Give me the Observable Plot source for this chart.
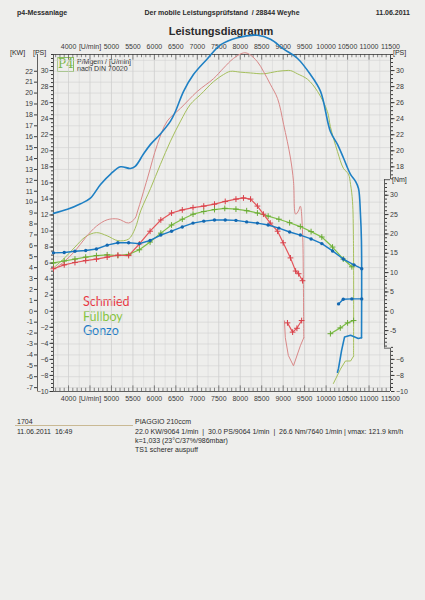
<!DOCTYPE html>
<html><head><meta charset="utf-8">
<script src="https://cdn.jsdelivr.net/npm/d3@7"></script>
<script src="https://cdn.jsdelivr.net/npm/@observablehq/plot@0.6"></script>
<style>
html,body{margin:0;padding:0;background:#ececea;}
#page{position:relative;width:425px;height:600px;overflow:hidden;background:#eeeeec;font-family:"Liberation Sans",Arial,sans-serif;color:#2b2b2b;}
.t{position:absolute;white-space:nowrap;font-size:7px;line-height:1;}
.b{font-weight:bold;}
.leg{position:absolute;font-family:Lato,"Open Sans",sans-serif;font-size:12.5px;line-height:1;white-space:nowrap;}
#chart{position:absolute;left:0;top:0;}
</style></head><body>
<div id="page">
  <div class="t b" style="left:17px;top:9px;">p4-Messanlage</div>
  <div class="t b" style="left:222px;top:9px;transform:translateX(-50%);">Der mobile Leistungsprüfstand &nbsp;/ 28844 Weyhe</div>
  <div class="t b" style="right:15px;top:9px;">11.06.2011</div>
  <div class="t b" style="left:221px;top:26px;font-size:11px;transform:translateX(-50%);">Leistungsdiagramm</div>
  <div class="t" style="left:10px;top:49px;">[KW]</div>
  <div class="t" style="left:33px;top:49px;">[PS]</div>
  <div class="t" style="left:393px;top:49px;">[PS]</div>
  <div class="t" style="left:392px;top:176px;">[Nm]</div>
  <div style="position:absolute;left:57px;top:57px;width:15px;height:13px;border:1px solid #8cbf5e;color:#7ab648;font-family:'DejaVu Serif',serif;font-size:12px;line-height:13px;text-align:center;">P4</div>
  <div class="t" style="left:77px;top:58px;">P/Mgem / [U/min]</div>
  <div class="t" style="left:77px;top:65px;">nach DIN 70020</div>
  <div class="leg" style="left:83px;top:296px;color:#e8343e;">Schmied</div>
  <div class="leg" style="left:83px;top:311px;color:#86c440;">Füllboy</div>
  <div class="leg" style="left:83px;top:325px;color:#1d7cc6;">Gonzo</div>
  <div class="t" style="left:17px;top:418px;">1704</div>
  <div style="position:absolute;left:15px;top:425px;width:118px;border-top:1px solid #c9b994;"></div>
  <div class="t" style="left:17px;top:428px;">11.06.2011 &nbsp;16:49</div>
  <div class="t" style="left:135px;top:418px;">PIAGGIO 210ccm</div>
  <div class="t" style="left:135px;top:428px;">22.0 KW/9064 1/min &nbsp;| &nbsp;30.0 PS/9064 1/min &nbsp;| &nbsp;26.6 Nm/7640 1/min | vmax: 121.9 km/h</div>
  <div class="t" style="left:135px;top:437px;">k=1,033 (23°C/37%/986mbar)</div>
  <div class="t" style="left:135px;top:446px;">TS1 scherer auspuff</div>
  <div id="chart"></div>
</div>
<script>
// ---- axis ticks / labels ----
const rpmLabelTicks = [4000,4500,5000,5500,6000,6500,7000,7500,8000,8500,9000,9500,10000,10500,11000,11500];
const rpmTickLabels = ["4000","[U/min]","5000","5500","6000","6500","7000","7500","8000","8500","9000","9500","10000","10500","11000","11500"];
const psLeftLabels = [-10,-8,-6,-4,-2,0,2,4,6,8,10,12,14,16,18,20,22,24,26,28,30];
const kwLabels = [-7,-6,-5,-4,-3,-2,-1,0,1,2,3,4,5,6,7,8,9,10,11,12,13,14,15,16,17,18,19,20,21,22];
const psRightUpperLabels = [18,20,22,24,26,28,30];
const psRightLowerLabels = [-10,-8,-6];
const nmLabels = [-5,0,5,10,15,20,25,30];

// ---- series: [rpm, PS] for power, [rpm, Nm] for torque ----
const schmiedPower = [[3650,5.2],[3900,6.2],[4150,7.5],[4400,9.2],[4650,10.6],[4900,11.4],[5150,11.5],[5400,11.0],[5550,11.6],[5610,12.5],[5840,16.6],[6070,20.8],[6300,23.7],[6610,25.3],[7000,27.4],[7380,29.0],[7610,30.3],[7840,31.5],[8075,32.2],[8190,32.1],[8400,31.1],[8540,29.9],[8700,28.3],[8870,26.5],[9010,23.3],[9170,19.1],[9240,16.2],[9290,12.1],[9355,12.5],[9400,13.1],[9450,10.0],[9470,3.8],[9480,-3.3]];
const schmiedPowerLoss = [[9480,-3.3],[9400,-4.3],[9240,-6.8],[9120,-5.5],[9050,-3.3],[9030,-1.2]];
const schmiedTorque = [[3650,11.0],[3900,12.0],[4150,12.6],[4400,13.1],[4650,13.5],[4900,14.0],[5150,14.5],[5400,14.4],[5650,17.4],[5900,20.7],[6150,23.6],[6400,25.4],[6650,26.2],[6900,26.8],[7150,27.2],[7400,27.7],[7650,28.4],[7900,29.0],[8075,29.3],[8240,29.0],[8400,27.2],[8540,25.1],[8700,22.8],[8870,20.7],[9000,17.7],[9170,13.8],[9290,10.4],[9360,9.7],[9450,7.9]];
const schmiedTorqueLoss = [[9100,-3.0],[9220,-5.4],[9320,-4.4],[9430,-2.4]];

const fuellboyPower = [[3650,5.4],[3900,6.6],[4150,8.0],[4400,9.3],[4650,9.8],[4900,9.4],[5150,8.8],[5400,9.0],[5550,10.3],[5680,12.5],[5910,15.3],[6140,18.3],[6375,21.2],[6610,23.7],[6840,25.8],[7075,27.0],[7375,28.6],[7610,29.5],[7770,29.9],[8000,29.8],[8240,29.7],[8540,29.6],[8870,29.9],[9064,30.0],[9170,30.0],[9330,29.6],[9570,28.9],[9800,27.4],[10030,24.9],[10100,23.0],[10265,19.9],[10405,17.8],[10520,17.1],[10570,15.8],[10615,13.7],[10637,8.8],[10640,-5.6]];
const fuellboyPowerLoss = [[10640,-5.6],[10570,-6.2],[10450,-6.2],[10335,-7.2],[10170,-9.0]];
const fuellboyTorque = [[3650,12.5],[3900,13.0],[4150,13.5],[4400,14.0],[4650,14.4],[4900,14.6],[5150,14.4],[5400,14.7],[5650,15.9],[5900,17.9],[6150,20.2],[6400,22.3],[6650,23.8],[6900,25.1],[7150,25.8],[7400,26.3],[7640,26.6],[7900,26.4],[8150,26.0],[8400,25.4],[8650,24.6],[8900,23.8],[9150,22.9],[9400,21.9],[9650,20.6],[9900,19.2],[10150,16.6],[10400,13.5],[10600,11.5]];
const fuellboyTorqueLoss = [[10100,-5.8],[10330,-4.3],[10500,-3.0],[10640,-2.4]];

const gonzoPower = [[3650,12.2],[3975,12.7],[4280,13.4],[4510,14.1],[4745,15.8],[4980,17.1],[5210,18.0],[5440,17.8],[5560,18.1],[5745,19.6],[5910,20.8],[6140,22.1],[6375,23.7],[6490,24.9],[6680,27.4],[6910,29.5],[7240,31.5],[7540,33.2],[7935,34.1],[8400,34.4],[8705,33.9],[9005,32.7],[9335,31.5],[9635,29.5],[9870,27.4],[10100,22.4],[10265,20.8],[10405,19.1],[10565,17.1],[10685,16.2],[10755,15.3],[10800,12.1],[10823,8.8],[10825,-3.3]];
const gonzoPowerLoss = [[10825,-3.3],[10750,-3.4],[10570,-3.0],[10430,-3.2],[10360,-4.9],[10290,-7.1],[10265,-7.6]];
const gonzoTorque = [[3650,15.1],[3900,15.2],[4150,15.5],[4400,15.7],[4650,16.1],[4900,17.1],[5150,17.7],[5400,17.7],[5650,17.5],[5900,18.3],[6150,19.7],[6400,20.7],[6650,21.8],[6900,22.8],[7150,23.3],[7400,23.6],[7650,23.6],[7900,23.5],[8150,23.1],[8400,22.8],[8650,22.3],[8900,21.5],[9150,20.5],[9400,19.7],[9650,18.7],[9900,17.5],[10150,15.6],[10400,13.5],[10650,12.0],[10830,11.0]];
const gonzoTorqueLoss = [[10290,1.9],[10400,3.1],[10600,3.2],[10830,3.2]];

// ---- scale set-up ----
const X0 = 3650, X1 = 11500, Y0 = -10, Y1 = 32;
const KW_PER_PS = 0.7355;
const NM = 0.482;          // printed Nm scale expressed in PS units
const ink = "#3a3a3a";
const minorRpm = d3.range(3700, 11501, 100);
const gridRpm = d3.range(3750, 11500, 250);
const gridKw = d3.range(-7, 24);
const psMinor = d3.range(-10, 32.01, 0.5);
const psUpperMinor = d3.range(16.5, 32.01, 0.5);
const psLowerMinor = d3.range(-10, -4.49, 0.5);
const nmMinor = d3.range(-9, 34, 1);
const labelFor = new Map(rpmLabelTicks.map((v, i) => [v, rpmTickLabels[i]]));
const P = d => d[0], V = d => d[1], T = d => d[1] * NM;

const chart = Plot.plot({
  width: 425, height: 600,
  marginLeft: 53, marginRight: 35, marginTop: 54, marginBottom: 209,
  x: {domain: [X0, X1]},
  y: {domain: [Y0, Y1]},
  style: {background: "transparent", fontFamily: "Liberation Sans, Arial, sans-serif", fontSize: "7px", color: ink},
  marks: [
    // grid
    Plot.ruleX(gridRpm, {stroke: d => d % 500 === 0 ? "#c4c4c4" : "#d6d6d6", strokeWidth: 0.6}),
    Plot.ruleY(gridKw.map(k => k / KW_PER_PS), {x1: X0, x2: X1, stroke: "#d0d0d0", strokeWidth: 0.6}),
    // frame lines
    Plot.ruleY([Y0, Y1], {x1: X0, x2: X1, stroke: ink, strokeWidth: 0.8}),
    Plot.ruleX([X0], {y1: Y0, y2: Y1, stroke: ink, strokeWidth: 0.8}),
    Plot.ruleX([X0], {y1: Y0, y2: Y1, dx: -16, stroke: ink, strokeWidth: 0.8}),
    Plot.ruleX([X1], {y1: 16.4, y2: Y1, stroke: ink, strokeWidth: 0.8}),
    Plot.ruleX([X1], {y1: Y0, y2: -4.6, stroke: ink, strokeWidth: 0.8}),
    Plot.ruleX([X1], {y1: -9.5 * NM, y2: 34 * NM, dx: -6, stroke: ink, strokeWidth: 0.8}),
    Plot.ruleY([-4.6], {x1: X1 - 140, x2: X1, stroke: ink, strokeWidth: 0.8}),
    Plot.ruleY([16.4], {x1: X1 - 140, x2: X1, stroke: ink, strokeWidth: 0.8}),
    // x tick marks (inside)
    Plot.ruleX(minorRpm, {y1: Y0, y2: d => d % 500 === 0 ? Y0 + 0.7 : Y0 + 0.4, stroke: ink, strokeWidth: 0.6}),
    Plot.ruleX(minorRpm, {y1: Y1, y2: d => d % 500 === 0 ? Y1 - 0.7 : Y1 - 0.4, stroke: ink, strokeWidth: 0.6}),
    // x labels
    Plot.axisX({anchor: "bottom", ticks: rpmLabelTicks, tickFormat: d => labelFor.get(d), tickSize: 0, tickPadding: 5, fontSize: 7, label: null}),
    Plot.axisX({anchor: "top", ticks: rpmLabelTicks, tickFormat: d => labelFor.get(d), tickSize: 0, tickPadding: 6, fontSize: 7, label: null}),
    // left axes
    Plot.axisY({anchor: "left", ticks: psMinor, tickFormat: () => "", tickSize: 2, label: null}),
    Plot.axisY({anchor: "left", ticks: psLeftLabels, tickSize: 3.5, tickPadding: 1.5, fontSize: 7, label: null}),
    Plot.axisY({anchor: "left", ticks: kwLabels.map(k => k / KW_PER_PS), tickFormat: d => String(Math.round(d * KW_PER_PS)), tickSize: 3, tickPadding: 1.5, dx: -16, fontSize: 7, label: null}),
    // right axes
    Plot.axisY({anchor: "right", ticks: psUpperMinor, tickFormat: () => "", tickSize: 2, label: null}),
    Plot.axisY({anchor: "right", ticks: psRightUpperLabels, tickSize: 3.5, tickPadding: 2, fontSize: 7, label: null}),
    Plot.axisY({anchor: "right", ticks: psLowerMinor, tickFormat: () => "", tickSize: 2, label: null}),
    Plot.axisY({anchor: "right", ticks: psRightLowerLabels, tickSize: 3.5, tickPadding: 2, fontSize: 7, label: null}),
    Plot.axisY({anchor: "right", ticks: nmMinor.map(n => n * NM), tickFormat: () => "", tickSize: 2, dx: -6, label: null}),
    Plot.axisY({anchor: "right", ticks: nmLabels.map(n => n * NM), tickFormat: d => String(Math.round(d / NM)), tickSize: 3.5, tickPadding: 2, dx: -6, fontSize: 7, label: null}),
    // power curves
    Plot.line(fuellboyPower, {x: P, y: V, stroke: "#a5bf5c", strokeWidth: 1, curve: "catmull-rom"}),
    Plot.line(fuellboyPowerLoss, {x: P, y: V, stroke: "#a5bf5c", strokeWidth: 1}),
    Plot.line(schmiedPower, {x: P, y: V, stroke: "#d98888", strokeWidth: 1, curve: "catmull-rom"}),
    Plot.line(schmiedPowerLoss, {x: P, y: V, stroke: "#d98888", strokeWidth: 1}),
    Plot.line(gonzoPower, {x: P, y: V, stroke: "#1f80c4", strokeWidth: 1.6, curve: "catmull-rom"}),
    Plot.line(gonzoPowerLoss, {x: P, y: V, stroke: "#1f80c4", strokeWidth: 1.6}),
    // torque curves
    Plot.line(fuellboyTorque, {x: P, y: T, stroke: "#7dbf45", strokeWidth: 1.2}),
    Plot.dot(fuellboyTorque, {x: P, y: T, symbol: "plus", r: 2, stroke: "#6aaa35", strokeWidth: 1}),
    Plot.line(fuellboyTorqueLoss, {x: P, y: T, stroke: "#7dbf45", strokeWidth: 1.2}),
    Plot.dot(fuellboyTorqueLoss, {x: P, y: T, symbol: "plus", r: 2, stroke: "#6aaa35", strokeWidth: 1}),
    Plot.line(schmiedTorque, {x: P, y: T, stroke: "#e4555a", strokeWidth: 1.2}),
    Plot.dot(schmiedTorque, {x: P, y: T, symbol: "plus", r: 2, stroke: "#d8404a", strokeWidth: 1}),
    Plot.line(schmiedTorqueLoss, {x: P, y: T, stroke: "#e4555a", strokeWidth: 1.2}),
    Plot.dot(schmiedTorqueLoss, {x: P, y: T, symbol: "plus", r: 2, stroke: "#d8404a", strokeWidth: 1}),
    Plot.line(gonzoTorque, {x: P, y: T, stroke: "#1a7bc4", strokeWidth: 1.4}),
    Plot.dot(gonzoTorque, {x: P, y: T, r: 1.7, fill: "#1468b0"}),
    Plot.line(gonzoTorqueLoss, {x: P, y: T, stroke: "#1a7bc4", strokeWidth: 1.4}),
    Plot.dot(gonzoTorqueLoss, {x: P, y: T, r: 1.7, fill: "#1468b0"})
  ]
});
document.getElementById("chart").appendChild(chart);
</script>
</body></html>
